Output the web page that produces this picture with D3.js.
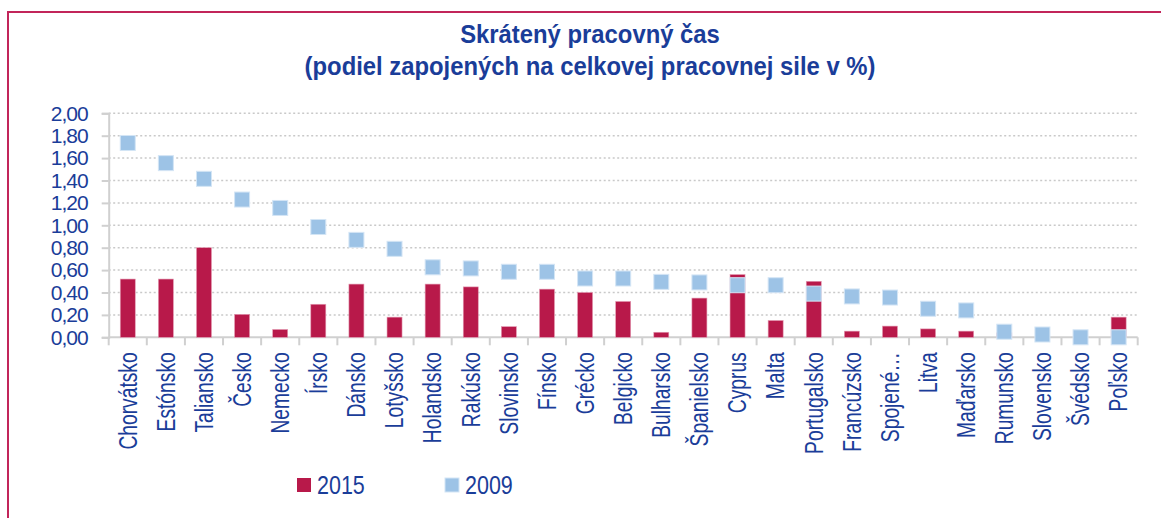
<!DOCTYPE html>
<html>
<head>
<meta charset="utf-8">
<script src="https://cdn.jsdelivr.net/npm/d3@7"></script>
<style>
  body { margin: 0; background: #fff; }
  text { font-family: "Liberation Sans", Arial, sans-serif; }
</style>
</head>
<body>
<svg id="chart" width="1161" height="518"></svg>
<script>
// categories and values
var countries = ["Chorvátsko", "Estónsko", "Taliansko", "Česko", "Nemecko", "Írsko", "Dánsko",
    "Lotyšsko", "Holandsko", "Rakúsko", "Slovinsko", "Fínsko", "Grécko", "Belgicko", "Bulharsko",
    "Španielsko", "Cyprus", "Malta", "Portugalsko", "Francúzsko", "Spojené…", "Litva", "Maďarsko",
    "Rumunsko", "Slovensko", "Švédsko", "Poľsko"];
var v2015 = [0.52, 0.52, 0.80, 0.205, 0.07, 0.295, 0.475, 0.18, 0.475, 0.45, 0.095, 0.43, 0.40,
    0.32, 0.045, 0.35, 0.56, 0.15, 0.50, 0.055, 0.10, 0.075, 0.055, 0.04, 0.0, 0.0, 0.18];
var v2009 = [1.735, 1.555, 1.415, 1.23, 1.155, 0.985, 0.87, 0.79, 0.625, 0.615, 0.585, 0.585, 0.525,
    0.525, 0.495, 0.49, 0.465, 0.465, 0.39, 0.365, 0.355, 0.255, 0.24, 0.05, 0.025, 0.0, 0.0];
var yTicks = [0, 0.2, 0.4, 0.6, 0.8, 1.0, 1.2, 1.4, 1.6, 1.8, 2.0];
var seriesNames = ["2015", "2009"];

var textColor = "#1a3d99",
    barColor = "#b8194a",
    markColor = "#9dc3e6";

var svg = d3.select("#chart");

// frame (runs off the right and bottom edge)
svg.append("rect")
    .attr("x", 8).attr("y", 12)
    .attr("width", 1300).attr("height", 700)
    .attr("fill", "none")
    .attr("stroke", "#c2255a")
    .attr("stroke-width", 2);

// title, a bit condensed like the original
svg.append("text")
    .attr("transform", "translate(590,43) scale(0.9,1)")
    .attr("text-anchor", "middle")
    .attr("font-size", 26.5).attr("font-weight", "bold")
    .attr("fill", textColor)
    .text("Skrátený pracovný čas");
svg.append("text")
    .attr("transform", "translate(590,75) scale(0.9,1)")
    .attr("text-anchor", "middle")
    .attr("font-size", 26.5).attr("font-weight", "bold")
    .attr("fill", textColor)
    .text("(podiel zapojených na celkovej pracovnej sile v %)");

var x = d3.scaleBand()
    .domain(countries)
    .range([108.7, 1137.7]);

var y = d3.scaleLinear()
    .domain([0, 2])
    .range([337.3, 113.3]);

var fmt = d3.formatLocale({decimal: ",", thousands: " ", grouping: [3], currency: ["", ""]}).format(".2f");

// dotted gridlines
svg.append("g")
    .selectAll("line")
    .data(yTicks.filter(function(d) { return d > 0; }))
    .enter().append("line")
    .attr("x1", x.range()[0]).attr("x2", x.range()[1] - 1)
    .attr("y1", function(d) { return y(d); })
    .attr("y2", function(d) { return y(d); })
    .attr("stroke", "#c9c9c9")
    .attr("stroke-width", 1.5)
    .attr("stroke-dasharray", "2,2.5");

// y axis
var yAxis = svg.append("g")
    .attr("transform", "translate(" + x.range()[0] + ",0)")
    .call(d3.axisLeft(y).tickValues(yTicks).tickFormat(fmt).tickSize(7).tickPadding(14));
yAxis.select(".domain").attr("stroke", "#d0d0d0").attr("stroke-width", 2);
yAxis.selectAll(".tick line").attr("stroke", "#d0d0d0").attr("stroke-width", 2);
yAxis.selectAll("text")
    .attr("font-size", 21)
    .attr("letter-spacing", -1)
    .attr("font-family", "Liberation Sans, Arial, sans-serif")
    .attr("fill", textColor);

// x axis line and ticks between categories
svg.append("line")
    .attr("x1", x.range()[0]).attr("x2", x.range()[1])
    .attr("y1", y(0)).attr("y2", y(0))
    .attr("stroke", "#d0d0d0").attr("stroke-width", 2);
svg.append("g")
    .selectAll("line")
    .data(countries.concat(["end"]))
    .enter().append("line")
    .attr("x1", function(d) { return d === "end" ? x.range()[1] : x(d); })
    .attr("x2", function(d) { return d === "end" ? x.range()[1] : x(d); })
    .attr("y1", y(0)).attr("y2", y(0) + 8)
    .attr("stroke", "#d0d0d0").attr("stroke-width", 2);

// x labels (condensed like the original)
svg.append("g")
    .selectAll("text")
    .data(countries)
    .enter().append("text")
    .attr("transform", function(d) {
        return "translate(" + (x(d) + x.bandwidth() / 2) + "," + (y(0) + 15) + ") rotate(-90) scale(0.77,1)";
    })
    .attr("dy", "0.35em")
    .attr("text-anchor", "end")
    .attr("font-size", 25)
    .attr("fill", textColor)
    .text(function(d) { return d; });

// 2015 bars
var barW = 15;
svg.append("g")
    .selectAll("rect")
    .data(countries)
    .enter().append("rect")
    .attr("x", function(d) { return x(d) + x.bandwidth() / 2 - barW / 2; })
    .attr("y", function(d, i) { return y(v2015[i]); })
    .attr("width", barW)
    .attr("height", function(d, i) { return y(0) - y(v2015[i]); })
    .attr("fill", barColor)
    .attr("stroke", "#e39ab2")
    .attr("stroke-width", 0.6);

// 2009 markers
var mk = 15;
svg.append("g")
    .selectAll("rect")
    .data(countries)
    .enter().append("rect")
    .attr("x", function(d) { return x(d) + x.bandwidth() / 2 - mk / 2; })
    .attr("y", function(d, i) { return y(v2009[i]) - mk / 2; })
    .attr("width", mk).attr("height", mk)
    .attr("fill", markColor)
    .attr("stroke", "#d4e5f5")
    .attr("stroke-width", 1);

// legend
var legend = svg.append("g")
    .selectAll("g")
    .data(seriesNames)
    .enter().append("g")
    .attr("transform", function(d, i) { return "translate(" + (297 + i * 148) + ",478)"; });
legend.append("rect")
    .attr("width", 14).attr("height", 14)
    .attr("fill", function(d, i) { return i === 0 ? barColor : markColor; })
    .attr("stroke", function(d, i) { return i === 0 ? "none" : "#d4e5f5"; });
legend.append("text")
    .attr("transform", "translate(20,16) scale(0.86,1)")
    .attr("font-size", 25)
    .attr("fill", textColor)
    .text(function(d) { return d; });
</script>
</body>
</html>
